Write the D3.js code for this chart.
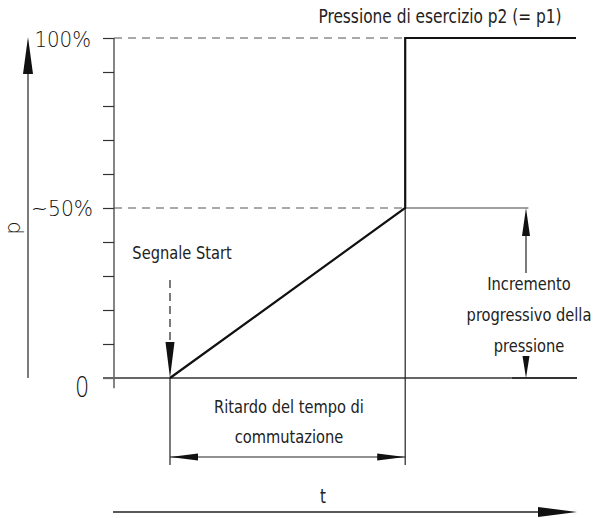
<!DOCTYPE html>
<html>
<head>
<meta charset="utf-8">
<script src="https://cdn.jsdelivr.net/npm/d3@7"></script>
<style>
  html, body { margin: 0; padding: 0; background: #fff; }
  svg { display: block; }
  text { font-family: "Liberation Sans Narrow", "DejaVu Sans Condensed", "Arial Narrow", sans-serif; fill: #222; }
  text.thin { font-family: "DejaVu Sans", sans-serif; font-weight: 200; fill: #111; }
</style>
</head>
<body>
<svg id="chart" width="598" height="518"></svg>
<script>
// Pressure profile: start signal, progressive ramp to ~50 %, then step to operating pressure
const profileTime = [1, 5.2, 5.2, 8.25];
const profilePressure = [0, 50, 100, 100];

// Key instants on the time axis
const startTime = 1;        // "Segnale Start"
const switchTime = 5.2;     // end of switching delay
const endTime = 8.25;

// Pressure axis ticks and labels
const pressureTicks = [0, 10, 20, 30, 40, 50, 60, 70, 80, 90, 100];
const labelValues = [100, 50, 0];
const labelTexts = ["100%", "~50%", "0"];

const svg = d3.select("#chart");

const x = d3.scaleLinear().domain([0, 8.25]).range([114, 576]);
const y = d3.scaleLinear().domain([0, 100]).range([378, 38]);

const ink = "#111";
const grey = "#555";

// Condensed label: drawn at (px, py) and narrowed horizontally
function label(px, py, str, size, anchor, sx, cls) {
  return svg.append("text")
    .attr("class", cls || null)
    .attr("transform", `translate(${px},${py}) scale(${sx},1)`)
    .attr("text-anchor", anchor)
    .attr("font-size", size)
    .text(str);
}

// Pressure axis with short ticks to the left
const axis = d3.axisLeft(y).tickValues(pressureTicks).tickSize(11).tickFormat("");
const gAxis = svg.append("g").attr("transform", `translate(${x(0)},0)`).call(axis);
gAxis.select(".domain").remove();
gAxis.selectAll(".tick line").attr("stroke", "#333").attr("stroke-width", 1.2);
svg.append("line")
  .attr("x1", x(0)).attr("x2", x(0))
  .attr("y1", y(100)).attr("y2", y(-3))
  .attr("stroke", "#333").attr("stroke-width", 1.2);

// Tick labels
const labelPos = {
  100: { px: 91, off: 9, size: 22, anchor: "end", sx: 0.9 },
  50: { px: 93, off: 8, size: 22, anchor: "end", sx: 0.92 },
  0: { px: 82, off: 19, size: 28, anchor: "middle", sx: 0.8 }
};
labelValues.forEach((v, i) => {
  const p = labelPos[v];
  label(p.px, y(v) + p.off, labelTexts[i], p.size, p.anchor, p.sx, "thin");
});

// Reference dashed lines at 100 % and ~50 %
[100, 50].forEach(v => {
  svg.append("line")
    .attr("x1", x(0)).attr("x2", x(switchTime))
    .attr("y1", y(v)).attr("y2", y(v))
    .attr("stroke", grey).attr("stroke-width", 1.2)
    .attr("stroke-dasharray", "8,6");
});

// Zero baseline
svg.append("line")
  .attr("x1", x(0) - 11).attr("x2", x(7.1))
  .attr("y1", y(0)).attr("y2", y(0))
  .attr("stroke", "#666").attr("stroke-width", 2);
svg.append("line")
  .attr("x1", x(7.1)).attr("x2", x(endTime) + 1)
  .attr("y1", y(0)).attr("y2", y(0))
  .attr("stroke", "#333").attr("stroke-width", 2);

// Thin extension at ~50 % to the right of the step
svg.append("line")
  .attr("x1", x(switchTime)).attr("x2", x(7.4))
  .attr("y1", y(50)).attr("y2", y(50))
  .attr("stroke", "#444").attr("stroke-width", 1.2);

// Extension lines for the switching-delay dimension
[startTime, switchTime].forEach(t => {
  svg.append("line")
    .attr("x1", x(t)).attr("x2", x(t))
    .attr("y1", t === switchTime ? y(50) : y(0)).attr("y2", 465)
    .attr("stroke", "#222").attr("stroke-width", 1.2);
});

// Pressure profile
const profile = profileTime.map((t, i) => ({ t, p: profilePressure[i] }));
svg.append("path")
  .datum(profile)
  .attr("fill", "none")
  .attr("stroke", ink)
  .attr("stroke-width", 2.2)
  .attr("stroke-linejoin", "miter")
  .attr("d", d3.line().x(d => x(d.t)).y(d => y(d.p)));

// Arrowhead helper: tip point, direction, length, half-width
function arrowHead(tx, ty, dir, len, hw) {
  let pts;
  if (dir === "up") pts = [[tx, ty], [tx - hw, ty + len], [tx + hw, ty + len]];
  else if (dir === "down") pts = [[tx, ty], [tx - hw, ty - len], [tx + hw, ty - len]];
  else if (dir === "left") pts = [[tx, ty], [tx + len, ty - hw], [tx + len, ty + hw]];
  else pts = [[tx, ty], [tx - len, ty - hw], [tx - len, ty + hw]];
  svg.append("path")
    .attr("d", "M" + pts.map(p => p.join(",")).join("L") + "Z")
    .attr("fill", ink);
}

// Vertical p axis arrow
svg.append("line").attr("x1", 28).attr("x2", 28).attr("y1", 72).attr("y2", y(0))
  .attr("stroke", "#333").attr("stroke-width", 1.3);
arrowHead(28, 37, "up", 37, 5);
svg.append("text")
  .attr("class", "thin")
  .attr("transform", "translate(20,228) rotate(-90)")
  .attr("text-anchor", "middle")
  .attr("font-size", 21)
  .text("p");

// Start signal (dashed arrow)
svg.append("line")
  .attr("x1", x(startTime)).attr("x2", x(startTime))
  .attr("y1", 280).attr("y2", 342)
  .attr("stroke", "#222").attr("stroke-width", 1.2)
  .attr("stroke-dasharray", "8,5");
arrowHead(x(startTime), y(0), "down", 36, 4.5);
label(182, 259, "Segnale Start", 18.5, "middle", 0.88);

// Progressive pressure increase dimension
const dimX = 526;
svg.append("line").attr("x1", dimX).attr("x2", dimX).attr("y1", y(50) + 25).attr("y2", 273)
  .attr("stroke", "#222").attr("stroke-width", 1.2);
arrowHead(dimX, y(50), "up", 28, 4);
arrowHead(dimX, y(0), "down", 22, 3.5);
["Incremento", "progressivo della", "pressione"].forEach((s, i) => {
  label(529, 290 + i * 31, s, 18.5, "middle", 0.88);
});

// Switching delay dimension
const dimY = 457;
svg.append("line").attr("x1", x(startTime)).attr("x2", x(switchTime)).attr("y1", dimY).attr("y2", dimY)
  .attr("stroke", "#222").attr("stroke-width", 1.2);
arrowHead(x(startTime), dimY, "left", 28, 3.5);
arrowHead(x(switchTime), dimY, "right", 28, 3.5);
["Ritardo del tempo di", "commutazione"].forEach((s, i) => {
  label(289, 413 + i * 30, s, 18.5, "middle", 0.88);
});

// Operating pressure label
label(440, 23, "Pressione di esercizio p2 (= p1)", 19, "middle", 0.9);

// Time axis arrow
const tY = 512;
svg.append("line").attr("x1", x(0) - 1).attr("x2", 540).attr("y1", tY).attr("y2", tY)
  .attr("stroke", "#222").attr("stroke-width", 1.3);
arrowHead(577, tY, "right", 39, 5);
label(323, 503, "t", 19, "middle", 0.88);
</script>
</body>
</html>
